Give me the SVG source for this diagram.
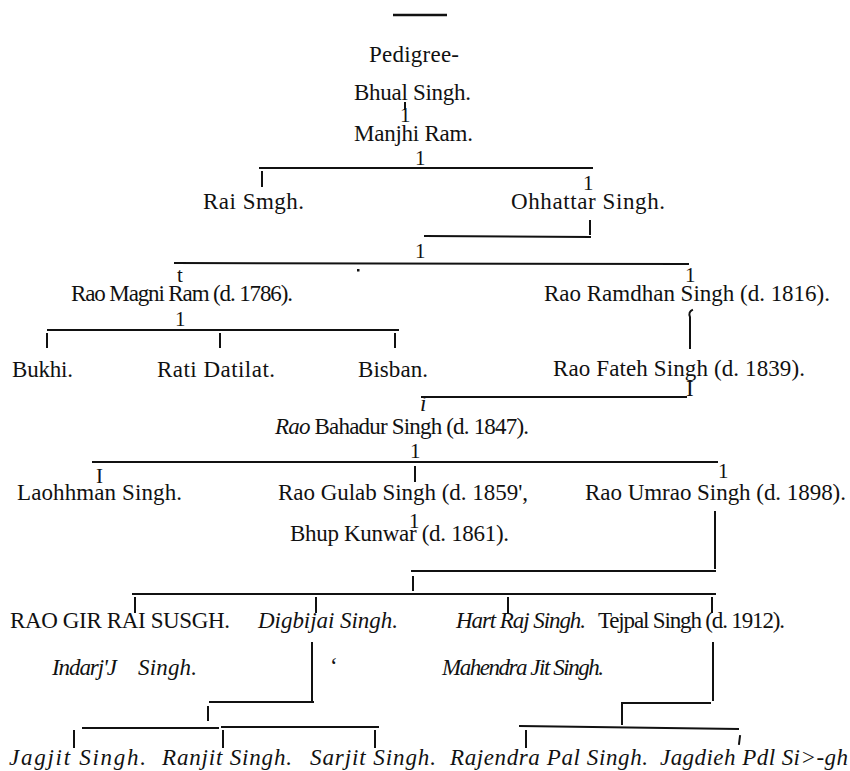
<svg xmlns="http://www.w3.org/2000/svg" width="850" height="771" viewBox="0 0 850 771">
<style>
text{font-family:"Liberation Serif","Times New Roman",serif;font-size:23px;fill:#111}
.i{font-style:italic}
.t{font-size:21px}
.c line,.c path{stroke:#111;stroke-width:2;fill:none;stroke-linecap:square}
.c .d{stroke-dasharray:3 2}
</style>
<rect width="850" height="771" fill="#fff"/>
<g id="title">
<line x1="393" y1="15" x2="447" y2="15" stroke="#111" stroke-width="2.5"/>
<text x="369" y="62" font-size="23.5" textLength="90" lengthAdjust="spacing">Pedigree-</text>
</g>
<g id="bhual"><text x="354" y="100" font-size="22.5" textLength="117" lengthAdjust="spacing">Bhual Singh.</text></g>
<g id="manjhi"><text x="354" y="141" font-size="22.5" textLength="119" lengthAdjust="spacing">Manjhi Ram.</text></g>
<g id="rai"><text x="203" y="209" textLength="101" lengthAdjust="spacing">Rai Smgh.</text></g>
<g id="ohhattar"><text x="511" y="209" font-size="24" textLength="154" lengthAdjust="spacing">Ohhattar Singh.</text></g>
<g id="magni"><text x="71" y="301" font-size="20" textLength="222" lengthAdjust="spacing">Rao Magni Ram (d. 1786).</text></g>
<g id="ramdhan"><text x="544" y="301" textLength="286" lengthAdjust="spacing">Rao Ramdhan Singh (d. 1816).</text></g>
<g id="bukhi"><text x="12" y="377" font-size="22.5" textLength="61" lengthAdjust="spacing">Bukhi.</text></g>
<g id="rati"><text x="157" y="377" textLength="118" lengthAdjust="spacing">Rati Datilat.</text></g>
<g id="bisban"><text x="358" y="377" textLength="70" lengthAdjust="spacing">Bisban.</text></g>
<g id="fateh"><text x="553" y="376" textLength="252" lengthAdjust="spacing">Rao Fateh Singh (d. 1839).</text></g>
<g id="bahadur"><text x="275" y="434" font-size="20.5" textLength="254" lengthAdjust="spacing"><tspan class="i">Rao</tspan> Bahadur Singh (d. 1847).</text></g>
<g id="laohhman"><text x="17" y="500" textLength="165" lengthAdjust="spacing">Laohhman Singh.</text></g>
<g id="gulab"><text x="278" y="500" font-size="22.5" textLength="250" lengthAdjust="spacing">Rao Gulab Singh (d. 1859',</text></g>
<g id="umrao"><text x="585" y="500" font-size="22.5" textLength="261" lengthAdjust="spacing">Rao Umrao Singh (d. 1898).</text></g>
<g id="bhup"><text x="290" y="541" font-size="22" textLength="219" lengthAdjust="spacing">Bhup Kunwar (d. 1861).</text></g>
<g id="girrai"><text x="10" y="628" font-size="22.3" textLength="220" lengthAdjust="spacing">RAO GIR RAI SUSGH.</text></g>
<g id="digbijai"><text class="i" x="258" y="628" font-size="22" textLength="140" lengthAdjust="spacing">Digbijai Singh.</text></g>
<g id="hartraj"><text class="i" x="456" y="628" font-size="19.5" textLength="130" lengthAdjust="spacing">Hart Raj Singh.</text></g>
<g id="tejpal"><text x="598" y="628" font-size="20" textLength="187" lengthAdjust="spacing">Tejpal Singh (d. 1912).</text></g>
<g id="indarjit">
<text class="i" x="52" y="675" font-size="20.5" textLength="65" lengthAdjust="spacing">Indarj'J</text>
<text class="i" x="138" y="675" font-size="21.5" textLength="59" lengthAdjust="spacing">Singh.</text>
</g>
<g id="mahendra"><text class="i" x="442" y="675" font-size="19" textLength="162" lengthAdjust="spacing">Mahendra Jit Singh.</text></g>
<g id="jagjit"><text class="i" x="9" y="765" font-size="22" textLength="137" lengthAdjust="spacing">Jagjit Singh.</text></g>
<g id="ranjit"><text class="i" x="162" y="765" font-size="22" textLength="130" lengthAdjust="spacing">Ranjit Singh.</text></g>
<g id="sarjit"><text class="i" x="310" y="765" font-size="22" textLength="126" lengthAdjust="spacing">Sarjit Singh.</text></g>
<g id="rajendra"><text class="i" x="450" y="765" font-size="22" textLength="198" lengthAdjust="spacing">Rajendra Pal Singh.</text></g>
<g id="jagdieh"><text class="i" x="660" y="765" font-size="22" textLength="188" lengthAdjust="spacing">Jagdieh Pdl Si&gt;-gh</text></g>
<g id="connectors" class="c">
<line x1="405" y1="103" x2="405" y2="109"/>
<text class="t" x="400" y="122">1</text>
<text class="t" x="415" y="165">1</text>
<line x1="260" y1="168" x2="592" y2="168"/>
<line x1="262" y1="172" x2="262" y2="186"/>
<text class="t" x="583" y="190">1</text>
<line x1="590" y1="221" x2="590" y2="234"/>
<line x1="425" y1="236" x2="590" y2="237"/>
<text class="t" x="415" y="258">1</text>
<line x1="175" y1="263" x2="688" y2="264"/>
<rect x="357" y="269" width="2.5" height="2.5" fill="#111"/>
<text class="t" x="177" y="282">t</text>
<text class="t" x="685" y="282">1</text>
<text class="t" x="175" y="326">1</text>
<line x1="48" y1="330" x2="398" y2="330"/>
<line x1="47" y1="334" x2="47" y2="347"/>
<line x1="220" y1="334" x2="220" y2="347"/>
<line class="d" x1="395" y1="334" x2="395" y2="347"/>
<path d="M692,310 Q688,312 690,317 L690,348"/>
<text x="686" y="396" font-size="24">I</text>
<line x1="422" y1="397" x2="686" y2="397"/>
<text class="i" x="420" y="411" font-size="13">i</text>
<text class="t" x="410" y="458">1</text>
<line x1="93" y1="462" x2="717" y2="462"/>
<text class="t" x="96" y="483">I</text>
<line x1="415" y1="467" x2="415" y2="481"/>
<text class="t" x="718" y="478">1</text>
<text class="t" x="409" y="528">1</text>
<line x1="715" y1="512" x2="715" y2="568"/>
<line x1="412" y1="571" x2="715" y2="571"/>
<line x1="413" y1="577" x2="413" y2="590"/>
<line x1="133" y1="594" x2="715" y2="594"/>
<line x1="135" y1="598" x2="135" y2="612"/>
<line x1="316" y1="598" x2="316" y2="612"/>
<line x1="508" y1="598" x2="508" y2="612"/>
<line x1="712" y1="598" x2="712" y2="612"/>
<line x1="312" y1="643" x2="312" y2="700"/>
<line x1="210" y1="702" x2="313" y2="702"/>
<text x="330" y="674" font-size="14">‘</text>
<line class="d" x1="208" y1="707" x2="208" y2="720"/>
<line x1="83" y1="728" x2="218" y2="728"/>
<line x1="222" y1="727" x2="378" y2="727"/>
<line x1="74" y1="731" x2="74" y2="747"/>
<line x1="223" y1="731" x2="223" y2="747"/>
<line x1="375" y1="731" x2="375" y2="747"/>
<line x1="713" y1="643" x2="713" y2="700"/>
<line x1="622" y1="703" x2="710" y2="703"/>
<line x1="622" y1="703" x2="622" y2="724"/>
<line x1="520" y1="726" x2="738" y2="729"/>
<line x1="526" y1="731" x2="526" y2="747"/>
<path d="M740,736 L739,744"/>
</g>
</svg>
